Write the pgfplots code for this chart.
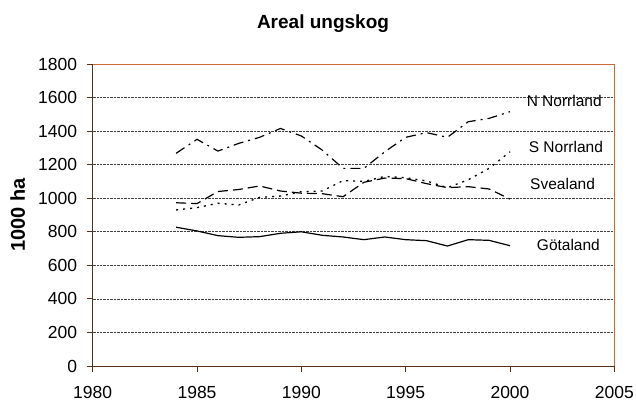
\documentclass[border=0pt]{standalone}
\usepackage{pgfplots}
\pgfplotsset{compat=1.18}
\usepackage{fontspec}
\setmainfont{Liberation Sans}
\definecolor{axdark}{RGB}{90,45,25}
\definecolor{axorange}{RGB}{205,105,55}
\begin{document}
\begin{tikzpicture}
\useasboundingbox (-92.7pt,-39pt) rectangle (543.3pt,366pt);
\begin{axis}[
  at={(0pt,0pt)}, anchor=origin,
  scale only axis, width=521.6pt, height=302pt,
  xmin=1980, xmax=2005, ymin=0, ymax=1800,
  xtick={1980,1985,...,2005}, ytick={0,200,...,1800},
  /pgf/number format/1000 sep={},
  /pgf/number format/assume math mode=true,
  tick align=outside, major tick length=6pt,
  xtick pos=bottom, ytick pos=left,
  tick style={draw=axdark, line width=0.8pt},
  ymajorgrids, grid style={black!75, line width=0.7pt, dash pattern=on 0.7pt off 0.7pt},
  axis line style={draw=none},
  ticklabel style={font=\fontsize{17.5}{20}\selectfont, inner sep=0pt},
  xticklabel style={anchor=base, yshift=-26pt},
  yticklabel style={anchor=east, xshift=-9.4pt},
  clip=false,
]
\addplot[black, line width=1.2pt] coordinates {
(1984,827)(1985,805)(1986,777)(1987,767)(1988,771)(1989,791)(1990,800)(1991,779)(1992,769)(1993,753)(1994,769)(1995,753)(1996,747)(1997,715)(1998,753)(1999,749)(2000,717)};
\addplot[black, line width=1.2pt, dash pattern=on 10pt off 5pt] coordinates {
(1984,973)(1985,968)(1986,1040)(1987,1052)(1988,1073)(1989,1043)(1990,1030)(1991,1027)(1992,1009)(1993,1095)(1994,1120)(1995,1117)(1996,1087)(1997,1063)(1998,1069)(1999,1055)(2000,995)};
\addplot[black, line width=1.3pt, dash pattern=on 2pt off 5pt] coordinates {
(1984,930)(1985,944)(1986,970)(1987,960)(1988,1005)(1989,1013)(1990,1039)(1991,1043)(1992,1105)(1993,1100)(1994,1130)(1995,1122)(1996,1103)(1997,1063)(1998,1110)(1999,1178)(2000,1277)};
\addplot[black, line width=1.2pt, dash pattern=on 10pt off 5pt on 2pt off 5pt] coordinates {
(1984,1268)(1985,1351)(1986,1281)(1987,1327)(1988,1363)(1989,1416)(1990,1371)(1991,1287)(1992,1178)(1993,1178)(1994,1277)(1995,1363)(1996,1391)(1997,1363)(1998,1456)(1999,1476)(2000,1516)};
\draw[axorange, line width=1pt] (rel axis cs:0,1) -- (rel axis cs:1,1) -- (rel axis cs:1,0);
\draw[axdark, line width=1pt] (rel axis cs:1,0) -- (rel axis cs:0,0) -- (rel axis cs:0,1);
\node[font=\fontsize{15.5}{18}\selectfont] at (axis cs:2002.6,1582) {N Norrland};
\node[font=\fontsize{15.5}{18}\selectfont] at (axis cs:2002.68,1307) {S Norrland};
\node[font=\fontsize{15.5}{18}\selectfont] at (axis cs:2002.52,1085) {Svealand};
\node[font=\fontsize{15.5}{18}\selectfont] at (axis cs:2002.8,721) {Götaland};
\end{axis}
\node[font=\bfseries\fontsize{19}{22}\selectfont, anchor=base] at (230.3pt,337.7pt) {Areal ungskog};
\node[font=\bfseries\fontsize{20}{22}\selectfont, anchor=base, rotate=90, inner sep=0pt] at (-67.7pt,151pt) {1000 ha};
\end{tikzpicture}
\end{document}
